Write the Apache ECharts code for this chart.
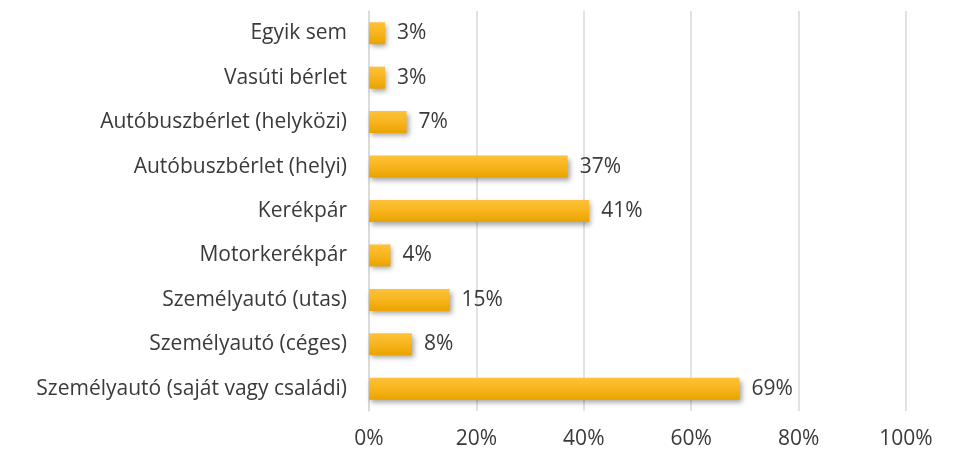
<!DOCTYPE html>
<html>
<head>
<meta charset="utf-8">
<script src="https://cdn.jsdelivr.net/npm/echarts@6/dist/echarts.min.js"></script>
<style>
html, body { margin: 0; padding: 0; background: #fff; }
#chart { width: 957px; height: 451px; }
</style>
</head>
<body>
<div id="chart"></div>
<script>
// kategóriák alulról felfelé
const categories = [
    'Személyautó (saját vagy családi)',
    'Személyautó (céges)',
    'Személyautó (utas)',
    'Motorkerékpár',
    'Kerékpár',
    'Autóbuszbérlet (helyi)',
    'Autóbuszbérlet (helyközi)',
    'Vasúti bérlet',
    'Egyik sem'
];
const values = [69, 8, 15, 4, 41, 37, 7, 3, 3];
const xTicks = [0, 20, 40, 60, 80, 100];

let charts = echarts.init(document.getElementById('chart'));
charts.setOption({
    animation: false,
    textStyle: { fontFamily: 'Open Sans' },
    grid: {
        left: 369,
        right: 51,
        top: 11,
        bottom: 40
    },
    xAxis: {
        type: 'value',
        min: xTicks[0],
        max: xTicks[xTicks.length - 1],
        interval: 20,
        axisLine: { show: false },
        axisTick: { show: false },
        axisLabel: {
            margin: 18,
            fontSize: 21,
            color: '#3a3a3a',
            formatter: '{value}%'
        },
        splitLine: {
            show: true,
            lineStyle: { color: '#D9D9D9', width: 1.5 }
        }
    },
    yAxis: {
        type: 'category',
        data: categories,
        axisLine: { show: true, lineStyle: { color: '#D9D9D9', width: 1.5 } },
        axisTick: { show: false },
        axisLabel: {
            margin: 22,
            fontSize: 21,
            color: '#3a3a3a'
        }
    },
    series: [
        {
            type: 'bar',
            data: values,
            barWidth: 22,
            itemStyle: {
                color: new echarts.graphic.LinearGradient(0, 0, 0, 1, [
                    { offset: 0, color: '#FDC23A' },
                    { offset: 0.5, color: '#F8B41C' },
                    { offset: 1, color: '#E9A300' }
                ]),
                shadowColor: 'rgba(0,0,0,0.35)',
                shadowBlur: 5,
                shadowOffsetX: 2,
                shadowOffsetY: 3
            },
            label: {
                show: true,
                position: 'right',
                distance: 12,
                fontSize: 21,
                color: '#3a3a3a',
                formatter: '{c}%'
            }
        }
    ]
});
</script>
</body>
</html>
